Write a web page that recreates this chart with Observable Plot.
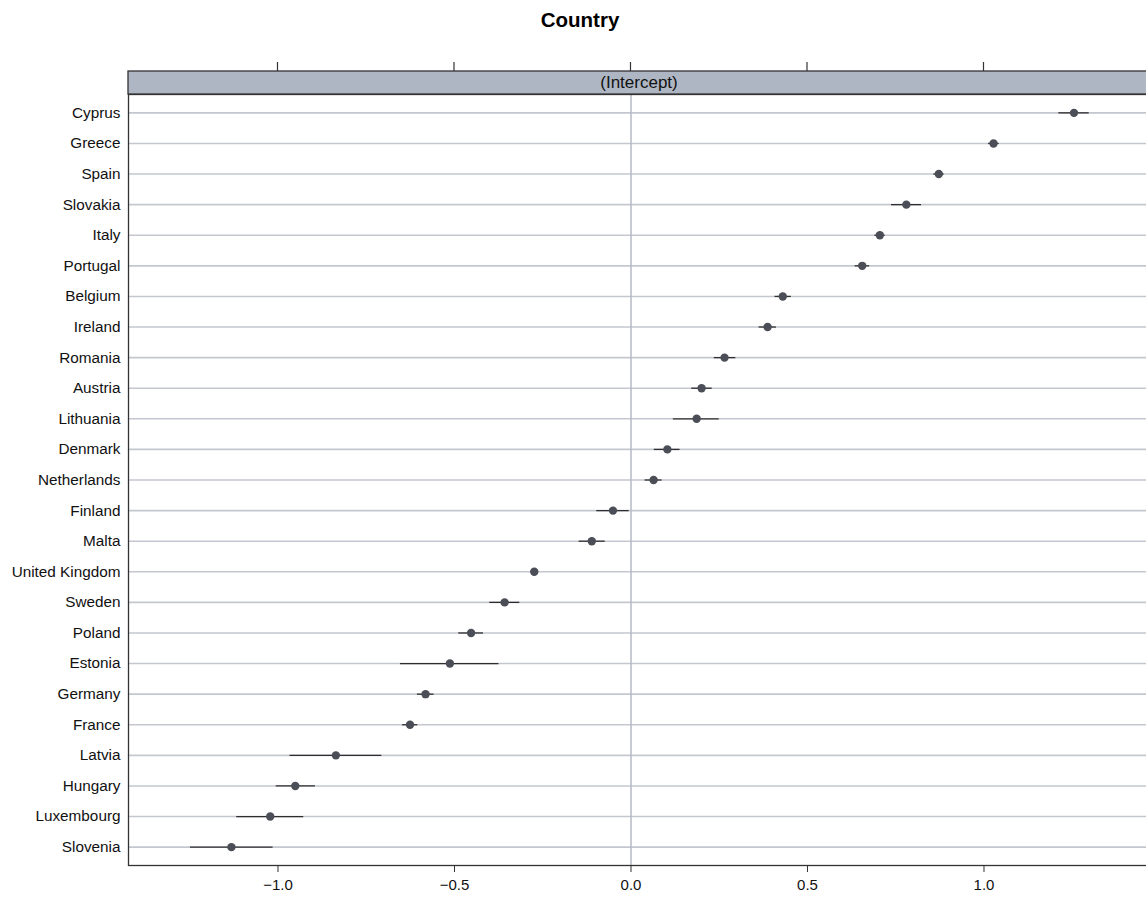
<!DOCTYPE html>
<html>
<head>
<meta charset="utf-8">
<script src="https://cdn.jsdelivr.net/npm/d3@7"></script>
<script src="https://cdn.jsdelivr.net/npm/@observablehq/plot@0.6"></script>
<style>
  html, body { margin: 0; padding: 0; background: #fff; overflow: hidden; }
  #chart { width: 1146px; height: 899px; overflow: hidden; }
  #chart svg { max-width: none !important; font-family: "Liberation Sans", Arial, Helvetica, sans-serif; }
</style>
</head>
<body>
<div id="chart"></div>
<script>
// ---- data ----
const countries = ["Cyprus","Greece","Spain","Slovakia","Italy","Portugal","Belgium","Ireland","Romania","Austria","Lithuania","Denmark","Netherlands","Finland","Malta","United Kingdom","Sweden","Poland","Estonia","Germany","France","Latvia","Hungary","Luxembourg","Slovenia"];
const estimates = [1.255, 1.027, 0.872, 0.780, 0.705, 0.655, 0.430, 0.387, 0.265, 0.200, 0.186, 0.103, 0.064, -0.051, -0.111, -0.274, -0.358, -0.453, -0.513, -0.582, -0.626, -0.836, -0.951, -1.022, -1.132];
const lower = [1.212, 1.013, 0.858, 0.738, 0.691, 0.635, 0.408, 0.363, 0.236, 0.172, 0.120, 0.066, 0.040, -0.097, -0.147, -0.283, -0.400, -0.488, -0.653, -0.605, -0.647, -0.966, -1.005, -1.117, -1.248];
const upper = [1.298, 1.043, 0.887, 0.823, 0.720, 0.676, 0.454, 0.412, 0.297, 0.230, 0.250, 0.139, 0.088, -0.005, -0.073, -0.265, -0.315, -0.418, -0.374, -0.558, -0.604, -0.706, -0.894, -0.927, -1.014];
const xTicks = [-1.0, -0.5, 0.0, 0.5, 1.0];
const chartTitle = "Country";
const stripLabel = "(Intercept)";

const rows = countries.map((c, i) => ({country: c, est: estimates[i], lo: lower[i], hi: upper[i]}));
const fmt = d => d3.format(".1f")(d).replace("-", "\u2212");

const W = 1150, H = 899, ML = 128, MT = 94, MB = 34;

const plot = Plot.plot({
  width: W,
  height: H,
  marginLeft: ML,
  marginRight: 0,
  marginTop: MT,
  marginBottom: MB,
  style: {fontFamily: "'Liberation Sans', Arial, Helvetica, sans-serif", background: "#fff", maxWidth: "none"},
  x: {domain: [-1.4235, 1.4717], ticks: xTicks},
  y: {type: "point", domain: countries, padding: 0.6, round: false},
  marks: [
    Plot.ruleY(countries, {y: d => d, stroke: "#c4c7d0", strokeWidth: 1.6}),
    Plot.ruleX([0], {stroke: "#b5b9c4", strokeWidth: 1.5}),
    Plot.ruleY(rows, {y: "country", x1: "lo", x2: "hi", stroke: "#2e2e2e", strokeWidth: 1.3}),
    Plot.dot(rows, {x: "est", y: "country", r: 4.2, fill: "#4b4e57", stroke: "none"}),
    Plot.frame({stroke: "#333", strokeWidth: 1.3}),
    Plot.axisX({anchor: "bottom", ticks: xTicks, tickFormat: fmt, tickSize: 7, tickPadding: 7, fontSize: 15, label: null, stroke: "#333", fill: "#111"}),
    Plot.axisY({anchor: "left", tickSize: 0, tickPadding: 8, fontSize: 15.3, label: null, fill: "#111"})
  ]
});

document.getElementById("chart").appendChild(plot);

// ---- decorations: title, strip, top ticks ----
const svg = d3.select(plot);
const xs = plot.scale("x");
const stripTop = 71, stripBottom = MT;

svg.append("rect")
  .attr("x", ML).attr("y", stripTop)
  .attr("width", W - ML).attr("height", stripBottom - stripTop)
  .attr("fill", "#aeb5c3").attr("stroke", "#333").attr("stroke-width", 1.3);

svg.append("text")
  .attr("x", (ML + W) / 2).attr("y", (stripTop + stripBottom) / 2)
  .attr("text-anchor", "middle").attr("dominant-baseline", "central")
  .attr("font-size", 17).attr("fill", "#111")
  .text(stripLabel);

svg.append("g").selectAll("line").data(xTicks).join("line")
  .attr("x1", d => xs.apply(d)).attr("x2", d => xs.apply(d))
  .attr("y1", stripTop - 9).attr("y2", stripTop)
  .attr("stroke", "#333").attr("stroke-width", 1.2);

svg.append("text")
  .attr("x", 580).attr("y", 27)
  .attr("text-anchor", "middle")
  .attr("font-size", 20.5).attr("font-weight", "bold").attr("fill", "#000")
  .text(chartTitle);
</script>
</body>
</html>
